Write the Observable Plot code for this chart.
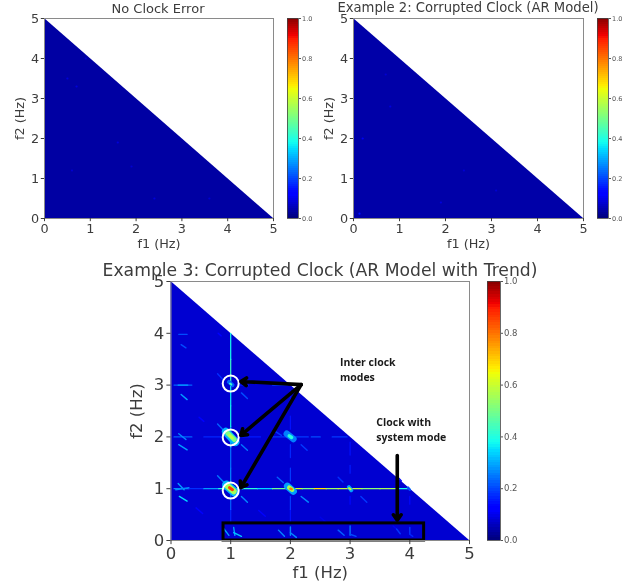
<!DOCTYPE html>
<html><head><meta charset="utf-8">
<script src="https://cdn.jsdelivr.net/npm/d3@7"></script>
<script src="https://cdn.jsdelivr.net/npm/@observablehq/plot@0.6"></script>
<style>
html,body{margin:0;padding:0;background:#fff;}
#page{position:relative;width:639px;height:583px;overflow:hidden;}
.t{position:absolute;transform:translateX(-50%);white-space:nowrap;font-family:"DejaVu Sans";color:#3c3c3c;}
.p{position:absolute;}
.p svg{display:block;overflow:visible;}
</style></head><body><div id="page"></div>
<script>
// ---- data ----
const edgeF1 = [0, 5];
const edgeF2 = [5, 0];
const floorA = 0.03, floorB = 0.035, floorC = 0.07;
const cbarLevels = d3.range(0, 1, 0.01);
const cbarTicks = [0, 0.2, 0.4, 0.6, 0.8, 1];
const freqTicks = [0, 1, 2, 3, 4, 5];
const jetStops = [0, .11, .125, .34, .375, .64, .66, .89, .91, 1];
const jetColors = ["#000080","#0000ff","#0000ff","#00dbff","#13fff0","#f0ff07","#ffeb00","#ff1c00","#f00000","#800000"];

// faint specks in panels A and B: [f1, f2, value]
const specksA = [[0.7,3.3,.08],[0.5,3.5,.08],[1.6,1.9,.08],[0.6,1.2,.07],[2.4,0.5,.08],[3.6,0.5,.07],[1.9,1.3,.07],[0.9,4.0,.07]];
const specksB = [[0.13,0.12,.14],[0.2,2.0,.1],[0.8,2.8,.08],[1.9,0.4,.08],[3.1,0.7,.07],[0.7,3.6,.07],[2.4,1.2,.07]];

// panel C ridges: [f1 start, f2 start, f1 end, f2 end, value]
const ridges = [
 [0.05,1,0.3,1,.26],[0.3,1,0.55,1,.17],[0.55,1,0.8,1,.28],[0.8,1,1.2,1,.4],[1.2,1,1.45,1,.4],[1.45,1,1.7,1,.34],[1.7,1,2,1,.48],
 [2,1,2.2,1,.6],[2.2,1,2.4,1,.5],[2.4,1,2.6,1,.66],[2.6,1,2.8,1,.54],[2.8,1,3.2,1,.58],[3.2,1,3.5,1,.52],[3.5,1,3.8,1,.55],[3.8,1,4,1,.38],
 [1,0.35,1,0.6,.16],[1,0.6,1,1,.22],[1,1,1,1.4,.26],[1,1.4,1,1.8,.24],[1,1.8,1,2.2,.3],[1,2.2,1,2.6,.38],[1,2.6,1,3,.36],[1,3,1,3.5,.42],[1,3.5,1,4,.38],
 [0.05,2,0.35,2,.22],[0.55,2,0.85,2,.16],[1.15,2,1.5,2,.15],[1.7,2,2.3,2,.18],[2.35,2,2.5,2,.2],[2.7,2,2.95,2,.18],
 [0.05,3,0.35,3,.22],[1.15,3,1.3,3,.15],[1.7,3,1.95,3,.18],
 [2,0.35,2,0.6,.14],[2,0.6,2,0.85,.18],[2,1.15,2,1.4,.18],[2,1.6,2,1.85,.16],[2,2.15,2,2.4,.14],[2,2.6,2,2.9,.13],
 [3,1.3,3,1.45,.15],[3,1.65,3,1.9,.14],[3,0.7,3,0.85,.13],[4,0.7,4,0.85,.13]
];
// panel C short diagonal streaks: [f1 start, f2 start, f1 end, f2 end, value]
const streaks = [
 [0.12,1.1,0.22,0.98,.28],[0.14,0.85,0.27,0.76,.34],[0.3,1.02,0.08,0.98,.26],[0.13,2.06,0.25,1.95,.26],[0.13,1.85,0.27,1.75,.28],[0.12,3.0,0.28,3.0,.28],[0.17,2.82,0.27,2.72,.28],
 [0.13,3.98,0.27,3.98,.2],[0.17,3.78,0.25,3.72,.2],
 [0.78,1.25,0.88,1.13,.24],[1.18,0.85,1.28,0.74,.26],[0.78,2.25,0.88,2.13,.22],[1.18,1.85,1.28,1.74,.24],[0.78,3.22,0.86,3.12,.17],[1.18,2.85,1.28,2.74,.2],[0.79,4.0,0.84,3.95,.11],
 [1.78,1.22,1.88,1.12,.22],[2.18,0.85,2.3,0.74,.26],[1.75,2.1,1.85,2.03,.18],[2.18,1.85,2.28,1.74,.18],[2.8,1.22,2.88,1.13,.17],[3.18,0.85,3.28,0.74,.18],[3.8,1.22,3.86,1.15,.13],[3.72,0.28,3.8,0.2,.1],
 [0.87,0.25,0.97,0.1,.28],[1.05,0.25,1.07,0.1,.28],[1.05,0.15,1.18,0.08,.32],[1.8,0.2,1.9,0.08,.26],[2,0.26,2,0.1,.26],[2,0.15,2.1,0.06,.26],
 [2.8,0.2,2.9,0.1,.22],[3,0.28,3,0.1,.24],[3,0.12,3.1,0.08,.2],[3.78,0.22,3.84,0.13,.18],[4,0.25,4,0.12,.18],[4,0.12,4.05,0.08,.16],
 [0.42,0.63,0.53,0.52,.12],[1.47,0.58,1.58,0.47,.11],[0.47,2.38,0.55,2.3,.11],[2.5,0.45,2.6,0.35,.09]
];
// panel C peaks, weakest first: [f1 start, f2 start, f1 end, f2 end, value, width in px]
const peaks = [
 [0.93,1.07,1.07,0.93,.3,9],[0.92,2.1,1.08,1.9,.3,8],[1.95,1.05,2.05,.95,.28,7],[1.94,2.06,2.05,1.96,.25,6.5],[2.98,1.03,3.02,.97,.28,4],[0.97,3.06,1.03,3.0,.22,4],[3.97,1.02,4.0,.98,.2,2.5],
 [0.95,1.05,1.05,0.95,.55,6],[0.95,2.07,1.06,1.95,.5,5],[1.98,1.02,2.03,.98,.55,4.5],[1.98,2.02,2.02,1.99,.4,3.5],[2.98,1.01,3.01,.99,.58,2],[0.99,3.03,1.01,3.01,.42,2],
 [0.98,1.02,1.03,0.98,.85,3],[0.98,2.03,1.03,1.98,.58,2.5],[2,1.0,2.02,.99,.78,2.5]
];
// panel C annotations
const circles = [[1,3.03],[1,1.99],[1,0.965]];
const arrows = [[2.18,3.01,1.17,3.07],[2.18,3.01,1.17,2.03],[2.18,3.01,1.17,1.02],[3.79,1.64,3.79,0.39]];
const box = [[0.88,0,4.24,0.33]];
const labels = [["Inter clock",2.83,3.44],["modes",2.83,3.15],["Clock with",3.44,2.28],["system mode",3.44,1.99]];

// ---- drawing ----
const jet = {type:"linear", domain:jetStops, range:jetColors, clamp:true};
const page = document.getElementById("page");
function place(node, left, top){ const d=document.createElement("div"); d.className="p"; d.style.left=left+"px"; d.style.top=top+"px"; d.style.filter="blur(0.45px)"; d.append(node); page.append(d); }
function title(text, cx, cy, size){ const d=document.createElement("div"); d.className="t"; d.textContent=text; d.style.left=cx+"px"; d.style.top=(cy-size*0.6)+"px"; d.style.fontSize=size+"px"; d.style.lineHeight=(size*1.2)+"px"; d.style.filter="blur(0.35px)"; page.append(d); }

function panel({x0,x1,y0,y1,fs,lab,floor,extra,ml}){
  const mt=14, mb=46, mr=14;
  const triangle = edgeF1.map((f,i)=>({f1:f,f2:edgeF2[i],v:floor}));
  const plot = Plot.plot({
    width:(x1-x0)+ml+mr, height:(y1-y0)+mt+mb,
    marginLeft:ml, marginRight:mr, marginTop:mt, marginBottom:mb,
    style:{fontFamily:"DejaVu Sans",background:"transparent",color:"#3c3c3c"},
    x:{domain:[0,5]}, y:{domain:[0,5]}, color:jet,
    marks:[
      Plot.areaY(triangle,{x:"f1",y:"f2",fill:"v"}),
      ...extra,
      Plot.frame({stroke:"#8a8a8a",strokeWidth:1}),
      Plot.axisX({ticks:freqTicks,tickFormat:d=>d,tickSize:fs/4,tickPadding:fs/6,fontSize:fs,label:"f1 (Hz)",labelAnchor:"center",labelArrow:"none",labelOffset:lab.x}),
      Plot.axisY({ticks:freqTicks,tickFormat:d=>d,tickSize:fs/4,tickPadding:fs/6,fontSize:fs,label:"f2 (Hz)",labelAnchor:"center",labelArrow:"none",labelOffset:lab.y})
    ]
  });
  plot.querySelectorAll('g[aria-label="soft"]').forEach(g=>g.style.filter="blur(0.55px)");
  plot.querySelectorAll('g[aria-label="peak"]').forEach(g=>g.style.filter="blur(1px)");
  place(plot, x0-ml, y0-mt);
}
function colorbar({x0,x1,y0,y1,fs}){
  const mt=8, mb=8, mr=26;
  const plot = Plot.plot({
    width:(x1-x0)+mr, height:(y1-y0)+mt+mb,
    marginLeft:0, marginRight:mr, marginTop:mt, marginBottom:mb,
    style:{fontFamily:"DejaVu Sans",background:"transparent",color:"#555"},
    x:{domain:[0,1],axis:null}, y:{domain:[0,1]}, color:jet,
    marks:[
      Plot.rect(cbarLevels,{x1:0,x2:1,y1:d=>d,y2:d=>d+0.01,fill:d=>d,shapeRendering:"crispEdges"}),
      Plot.frame({stroke:"#444",strokeWidth:.8}),
      Plot.axisY({anchor:"right",ticks:cbarTicks,tickFormat:d=>d.toFixed(1),tickSize:2,tickPadding:1.5,fontSize:fs,label:null})
    ]
  });
  place(plot, x0, y0-mt);
}
function dots(list){ return Plot.dot(list,{x:d=>d[0],y:d=>d[1],fill:d=>d[2],r:1.1,ariaLabel:"soft"}); }
function segs(list,w){ return Plot.link(list,{x1:d=>d[0],y1:d=>d[1],x2:d=>d[2],y2:d=>d[3],stroke:d=>d[4],strokeWidth:w,strokeLinecap:"round",ariaLabel:"soft"}); }

const marksC = [
  segs(ridges,1.2),
  segs(streaks,1.4),
  Plot.link(peaks,{x1:d=>d[0],y1:d=>d[1],x2:d=>d[2],y2:d=>d[3],stroke:d=>d[4],strokeWidth:d=>d[5],strokeLinecap:"round",ariaLabel:"peak"}),
  Plot.rect(box,{x1:d=>d[0],y1:d=>d[1],x2:d=>d[2],y2:d=>d[3],fill:"none",stroke:"#000",strokeWidth:3}),
  Plot.dot(circles,{x:d=>d[0],y:d=>d[1],r:8,stroke:"#fff",strokeWidth:2,fill:"none"}),
  Plot.arrow(arrows,{x1:d=>d[0],y1:d=>d[1],x2:d=>d[2],y2:d=>d[3],stroke:"#000",strokeWidth:3.6,headLength:2.8,headAngle:70}),
  Plot.text(labels,{text:d=>d[0],x:d=>d[1],y:d=>d[2],textAnchor:"start",fill:"#1a1a1a",fontSize:10.5,fontWeight:"bold",fontFamily:"Open Sans"})
];

panel({x0:44,x1:273,y0:18,y1:218,fs:12.8,lab:{x:29,y:30},floor:floorA,extra:[dots(specksA)],ml:44});
colorbar({x0:287,x1:298,y0:18,y1:218,fs:6.5});
panel({x0:353,x1:583,y0:18,y1:218,fs:12.8,lab:{x:29,y:30},floor:floorB,extra:[dots(specksB)],ml:44});
colorbar({x0:597,x1:608,y0:18,y1:218,fs:6.5});
panel({x0:170.5,x1:469,y0:281,y1:540,fs:16.5,lab:{x:37,y:41},floor:floorC,extra:marksC,ml:60.5});
colorbar({x0:487,x1:500,y0:281,y1:540,fs:8.5});

title("No Clock Error",158,9,13);
title("Example 2: Corrupted Clock (AR Model)",468,8,13.2);
title("Example 3: Corrupted Clock (AR Model with Trend)",320,270,17.2);
</script></body></html>
